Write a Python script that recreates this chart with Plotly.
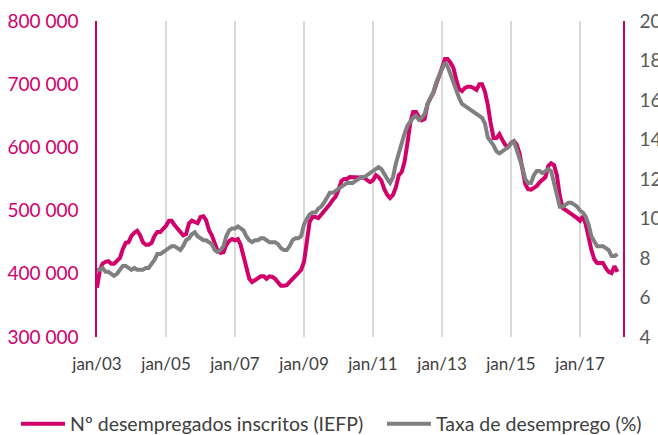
import pandas as pd
import plotly.graph_objects as go

# Monthly data, Jan 2003 - Feb 2018
dates = pd.date_range("2003-01-01", periods=182, freq="MS")

registered_unemployed = [  # Nº desempregados inscritos (IEFP), thousands
    378, 406, 416, 419, 420, 416, 416, 420, 425, 439, 449, 450,
    460, 465, 468, 461, 450, 446, 446, 449, 460, 466, 466, 471,
    476, 484, 484, 477, 472, 466, 461, 463, 480, 484, 482, 480,
    490, 491, 485, 469, 461, 449, 436, 433, 434, 446, 452, 455,
    453, 455, 446, 428, 409, 392, 387, 390, 393, 396, 396, 392,
    396, 395, 392, 385, 381, 381, 382, 387, 392, 396, 400, 406,
    419, 453, 482, 490, 490, 488, 493, 498, 504, 510, 517, 522,
    533, 547, 550, 550, 553, 553, 553, 553, 553, 552, 548, 545,
    548, 556, 553, 547, 534, 525, 520, 525, 537, 556, 561, 577,
    607, 640, 656, 656, 648, 643, 645, 669, 678, 686, 700, 711,
    726, 740, 740, 734, 726, 707, 692, 689, 694, 696, 696, 694,
    691, 700, 700, 688, 667, 637, 615, 615, 621, 612, 604, 601,
    607, 610, 605, 591, 567, 542, 534, 533, 536, 539, 545, 550,
    553, 571, 575, 572, 556, 523, 504, 501, 498, 495, 491, 488,
    484, 491, 479, 457, 438, 423, 417, 417, 417, 409, 403, 401,
    412, 403,
]
registered_unemployed = [v * 1000 for v in registered_unemployed]

unemployment_rate = [  # Taxa de desemprego (%)
    7.4, 7.4, 7.5, 7.3, 7.3, 7.2, 7.1, 7.2, 7.4, 7.6, 7.6, 7.5,
    7.4, 7.5, 7.4, 7.4, 7.4, 7.5, 7.5, 7.7, 7.9, 8.2, 8.2, 8.3,
    8.4, 8.5, 8.6, 8.6, 8.5, 8.4, 8.6, 8.9, 9.0, 9.2, 9.3, 9.1,
    9.0, 8.9, 8.9, 8.8, 8.7, 8.4, 8.3, 8.4, 8.6, 9.1, 9.4, 9.5,
    9.5, 9.6, 9.5, 9.4, 9.1, 8.9, 8.8, 8.9, 8.9, 9.0, 9.0, 8.9,
    8.8, 8.8, 8.8, 8.7, 8.5, 8.4, 8.4, 8.6, 8.9, 9.0, 9.0, 9.1,
    9.7, 10.0, 10.2, 10.3, 10.3, 10.5, 10.6, 10.8, 11.1, 11.3, 11.3, 11.4,
    11.5, 11.6, 11.7, 11.8, 11.8, 11.8, 11.9, 12.0, 12.1, 12.1, 12.2, 12.3,
    12.4, 12.5, 12.6, 12.5, 12.2, 12.0, 11.8, 12.1, 12.8, 13.3, 13.9, 14.3,
    14.7, 14.9, 15.1, 15.2, 15.0, 15.1, 15.3, 15.8, 16.1, 16.4, 16.9, 17.2,
    17.6, 17.9, 17.7, 17.3, 16.8, 16.4, 16.1, 15.8, 15.7, 15.6, 15.5, 15.4,
    15.3, 15.2, 15.1, 14.8, 14.1, 13.9, 13.7, 13.4, 13.3, 13.4, 13.5, 13.6,
    13.8, 13.9, 13.5, 13.1, 12.6, 12.0, 11.8, 11.8, 12.2, 12.4, 12.4, 12.3,
    12.4, 12.5, 12.4, 11.8, 11.3, 10.6, 10.6, 10.7, 10.8, 10.8, 10.7, 10.6,
    10.4, 10.3, 10.1, 9.7, 9.1, 8.8, 8.6, 8.6, 8.6, 8.5, 8.4, 8.1,
    8.1, 8.2,
]

left_ticks = [300000, 400000, 500000, 600000, 700000, 800000]
left_ticktext = ["300 000", "400 000", "500 000", "600 000", "700 000", "800 000"]
right_ticks = [4, 6, 8, 10, 12, 14, 16, 18, 20]
x_tickvals = ["2003-01-01", "2005-01-01", "2007-01-01", "2009-01-01",
              "2011-01-01", "2013-01-01", "2015-01-01", "2017-01-01"]
x_ticktext = ["jan/03", "jan/05", "jan/07", "jan/09", "jan/11", "jan/13", "jan/15", "jan/17"]

MAGENTA = "#D1006B"
GREY = "#808080"
FONT = "Lato"

fig = go.Figure()
fig.add_trace(go.Scatter(
    x=dates, y=registered_unemployed, mode="lines",
    name="Nº desempregados inscritos (IEFP)",
    line=dict(color=MAGENTA, width=4), legend="legend",
))
fig.add_trace(go.Scatter(
    x=dates, y=unemployment_rate, mode="lines", yaxis="y2",
    name="Taxa de desemprego (%)",
    line=dict(color=GREY, width=4), legend="legend2",
))

legend_common = dict(
    orientation="h", xref="container", yref="container",
    xanchor="left", y=0.0253, yanchor="middle",
    font=dict(family=FONT, size=19.5, color="#404040"),
    bgcolor="rgba(0,0,0,0)", itemwidth=44,
)

fig.update_layout(
    width=658, height=435,
    margin=dict(l=97, r=35, t=21, b=98, autoexpand=False),
    paper_bgcolor="white", plot_bgcolor="white",
    font=dict(family=FONT, size=18, color="#404040"),
    showlegend=True,
    legend=dict(x=0.0243, **legend_common),
    legend2=dict(x=0.5805, **legend_common),
    xaxis=dict(
        range=["2003-01-01", "2018-04-01"],
        tickvals=x_tickvals, ticktext=x_ticktext,
        showgrid=True, gridcolor="#D9D9D9", gridwidth=1.5,
        showline=False, zeroline=False, ticks="",
        tickfont=dict(family=FONT, size=17, color="#404040"),
        ticklabelstandoff=15, automargin=False,
    ),
    yaxis=dict(
        range=[300000, 800000],
        tickvals=left_ticks, ticktext=left_ticktext,
        showgrid=False, zeroline=False,
        showline=True, linecolor=MAGENTA, linewidth=1.5,
        ticks="", tickfont=dict(family=FONT, size=19, color=MAGENTA),
        ticklabelstandoff=13, automargin=False,
    ),
    yaxis2=dict(
        range=[4, 20], overlaying="y", side="right",
        tickvals=right_ticks,
        showgrid=False, zeroline=False,
        showline=True, linecolor=MAGENTA, linewidth=1.5,
        ticks="", tickfont=dict(family=FONT, size=19, color="#595959"),
        ticklabelstandoff=11, automargin=False,
    ),
)

fig.write_html(
    "out.html",
    config={"displayModeBar": False},
    post_script="document.body.style.margin='0';document.body.style.overflow='hidden';",
)
